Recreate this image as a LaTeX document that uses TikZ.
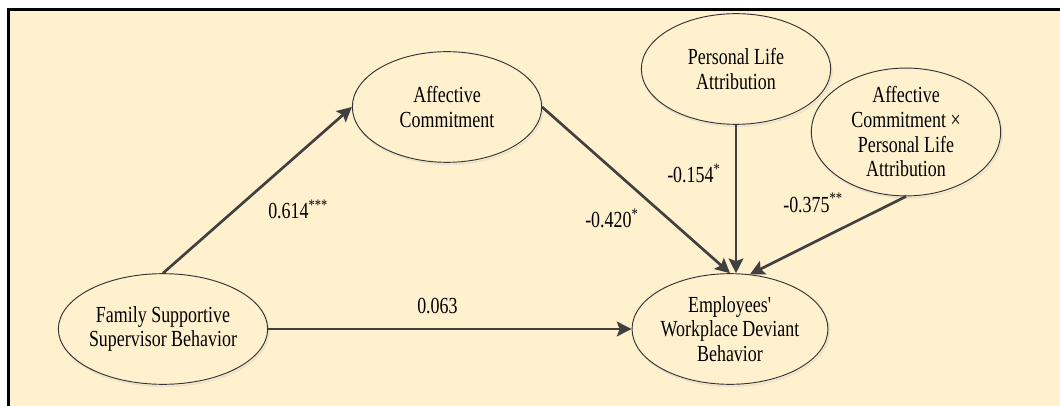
\documentclass[tikz,border=0pt]{standalone}
\usepackage{fontspec}
\setmainfont{Liberation Serif}[FakeStretch=0.78]
\usetikzlibrary{shapes.geometric,arrows.meta,shadows}
\definecolor{bgc}{RGB}{255,240,206}
\definecolor{edgec}{RGB}{64,64,64}
\definecolor{shadowc}{RGB}{232,224,204}
\begin{document}
\begin{tikzpicture}[x=0.75pt,y=-0.75pt,
  latent/.style={ellipse, draw=black!80, line width=0.7pt, fill=bgc,
    minimum width=142pt, minimum height=83pt, inner sep=0pt, align=center,
    font=\fontsize{17.25pt}{18.5pt}\selectfont,
    drop shadow={shadow xshift=1pt, shadow yshift=-1.5pt, draw=shadowc, fill=none, line width=1pt, opacity=1}},
  pathc/.style={draw=edgec, line width=2pt, -{Stealth[length=11pt,width=11pt,inset=2pt]}},
  coef/.style={font=\fontsize{17.25pt}{18pt}\selectfont, inner sep=0pt, anchor=base west}]
\useasboundingbox (0,0) rectangle (1060,406);
\fill[bgc] (8,10) rectangle (1062,408);
\draw[line width=2.25pt] (1062,10) -- (8,10) -- (8,408);

\node[latent] (fssb) at (163,329) {Family Supportive\\Supervisor Behavior};
\node[latent] (ac) at (447,107) {Affective\\Commitment};
\node[latent] (pla) at (736,69) {Personal Life\\Attribution};
\node[latent] (int) at (906,132) {Affective\\Commitment ×\\Personal Life\\Attribution};
\node[latent] (ewdb) at (730,329) {Employees\textquotesingle\\Workplace Deviant\\Behavior};

\draw[pathc] (fssb.north) -- (ac.west);
\draw[pathc] (fssb.east) -- (ewdb.west);
\draw[pathc] (ac.east) -- (ewdb.north);
\draw[pathc] (pla.south) -- (pla.south |- ewdb.north);
\draw[pathc] (int.south) -- (ewdb.70);

\node[coef] (l1) at (268,219) {0.614\textsuperscript{***}};
\node[coef] (l2) at (417,313) {0.063};
\node[coef] (l3) at (585,228) {-0.420\textsuperscript{*}};
\node[coef] (l4) at (667,183) {-0.154\textsuperscript{*}};
\node[coef] (l5) at (783,212) {-0.375\textsuperscript{**}};
\end{tikzpicture}
\end{document}
